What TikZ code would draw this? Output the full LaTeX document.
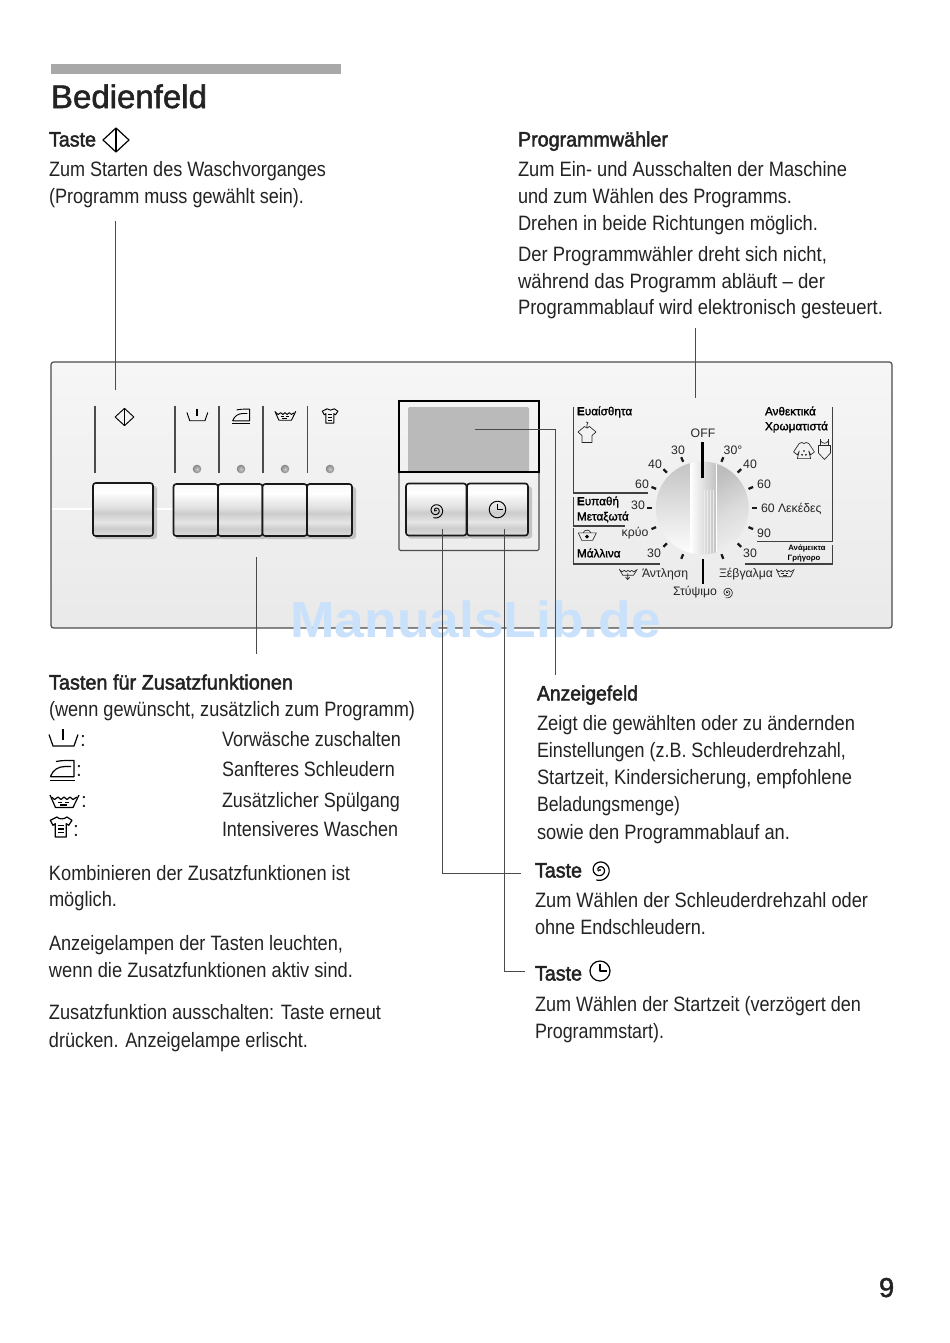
\documentclass[tikz,border=0pt]{standalone}
\usepackage{fontspec}
\usepackage{graphicx}
\usetikzlibrary{calc}
\setmainfont{Liberation Sans}
\newfontfamily\medf[FakeBold=2.2]{Liberation Sans}
\newfontfamily\titlef[FakeBold=1.6]{Liberation Sans}
\newfontfamily\semif[FakeBold=1.6]{Liberation Sans}
\definecolor{barg}{HTML}{A8A8A8}
\definecolor{ink}{HTML}{232323}
\definecolor{conn}{HTML}{4A4A4A}
\definecolor{wm}{HTML}{C9E1FB}
\pgfdeclareverticalshading{btnshade}{100bp}{color(0bp)=(black!32);color(7bp)=(black!16);color(18bp)=(black!22);color(24bp)=(black!12);color(32bp)=(black!20);color(38bp)=(black!10);color(47bp)=(black!20);color(52bp)=(black!12);color(60bp)=(black!6);color(66bp)=(white);color(76bp)=(black!3);color(82bp)=(white);color(92bp)=(black!10);color(100bp)=(black!30)}
\pgfdeclareverticalshading{panelshade}{100bp}{color(0bp)=(black!11);color(100bp)=(black!1)}
\tikzset{
  x=0.75pt,y=-0.75pt,
  txt/.style={anchor=base west,inner sep=0pt,outer sep=0pt,text=ink,font=\fontsize{15.6}{15.6}\selectfont},
  head/.style={txt,font=\fontsize{15.6}{15.6}\medf},
  gr/.style={inner sep=0pt,outer sep=0pt,text=black!85,font=\fontsize{9.2}{9.5}\selectfont},
  grb/.style={gr,text=black,font=\fontsize{8.8}{9}\semif},
  conline/.style={draw=conn,line width=0.65pt},
  sep/.style={draw=black!70,line width=0.8pt},
  frameline/.style={draw=black!75,line width=0.8pt},
  tick/.style={draw=black!90,line width=1.7pt},
  ico/.style={draw=black,line width=0.9pt,line join=round,fill=none},
  pics/prewash/.style={code={
    \draw[ico] (-14,-3.5)--(-10,8)--(11,8)--(15,-3.5);
    \draw[ico,line width=1.4pt] (0,-9)--(0,2);}},
  pics/iron/.style={code={
    \draw[ico] (-12.3,10.7)--(12.7,10.7);
    \draw[ico] (-11.7,6.7)..controls(-9,0)and(-4,-3.5)..(3,-3.5)--(9,-3.5) (-6,-8.5)..controls(0,-9.5)..(12,-9.5)--(12,6.7)--(-11.7,6.7);}},
  pics/tub/.style={code={
    \draw[ico] (-14,-8)--(-8.5,4.5)--(9,4.5)--(15,-8);
    \draw[ico] (-12.5,-6)--(-9.5,-3.5)--(-6,-6)--(-3,-3.5)--(0,-6)--(3,-3.5)--(6,-6)--(9,-3.5)--(13,-6);
    \draw[ico] (-6,-.5)--(-2,-.5) (1,-.5)--(5,-.5) (-4,2)--(3,2);}},
  pics/draintub/.style={code={
    \draw[ico] (-14,-8)--(-8.5,2)--(9,2)--(15,-8);
    \draw[ico] (-12.5,-6)--(-9.5,-3.5)--(-6,-6)--(-3,-3.5)--(0,-6)--(3,-3.5)--(6,-6)--(9,-3.5)--(13,-6);
    \draw[ico] (-.5,-1)--(-.5,9) (-4,5)--(-.5,9)--(3,5);}},
  pics/woolicon/.style={code={
    \draw[ico] (-14,-5)--(-8.5,7)--(9,7)--(15,-5)--cycle;
    \draw[ico] (-6,-5)..controls(-5,-11)and(5,-11)..(6,-5);
    \fill[black] (0,1) circle[radius=3.2];}},
  pics/shirt/.style={code={
    \draw[ico] (-10.7,-6.7)--(-4,-10)..controls(-2,-7.5)and(3,-7.5)..(6,-10)--(11,-6.7)--(7.7,-1.7)--(5.3,-3.3)--(5.3,10)--(-5.7,10)--(-5.7,-3.3)--(-8,-1.7)--cycle;
    \draw[ico] (-3,-1.5)--(3,-1.5) (-3,2)--(3,2) (-3,5.5)--(3,5.5);}},
  pics/hangshirt/.style={code={
    \draw[ico] (-9,-1)--(-2.5,-6.5)--(0,-5)--(2.5,-6.5)--(9,-1)--(5,2.5)--(5,9.5)--(-5,9.5)--(-5,2.5)--cycle;
    \draw[ico] (0,-5)--(0,-8.5)..controls(2,-9.5)and(1,-11.5)..(-1,-11);}},
  pics/dress/.style={code={
    \draw[ico] (-11,1)--(-5,-8)--(-2,-9)..controls(-1,-7)and(1,-7)..(2,-9)--(5,-8)--(11,1)--(7,4)--(5,0)--(7,8)--(-7,8)--(-5,0)--(-7,4)--cycle;
    \fill[black] (0,0) circle[radius=1] (-2,4) circle[radius=1] (2,4) circle[radius=1];}},
  pics/startdia/.style={code={
    \draw[ico] (-13,0)--(0,-12)--(13,0)--(0,12)--cycle;
    \draw[ico] (0,-12)--(0,12);}},
  pics/spiral/.style={code={
    \draw[ico,domain=0:690,samples=100,smooth,variable=\t] plot ({(1.5+\t/76)*cos(\t+140)},{(1.5+\t/76)*sin(\t+140)});
    \fill[black] (0,0) circle[radius=1.2];}},
  pics/clockface/.style={code={
    \draw[ico] (0,0) circle[radius=10];
    \draw[ico] (0,-7)--(0,0)--(6.5,0);}},
}
\newcommand\tl[5][txt]{\node[#1] (#2) at (#3) {\resizebox{\dimexpr #4pt*3/4\relax}{\height}{#5}};}
\newcommand\btn[4]{%
  \fill[black!40,rounded corners=2pt,opacity=.5] (#1+2,#2+3) rectangle (#3+4,#4+3);
  \shade[shading=btnshade,draw=black!90,line width=1.2pt,rounded corners=2pt] (#1,#2) rectangle (#3,#4);
}
\begin{document}
\begin{tikzpicture}
\useasboundingbox (0,0) rectangle (950,1343);
\fill[white] (0,0) rectangle (950,1343);
% header
\fill[barg] (51,64) rectangle (341,74);
\node[txt,font=\fontsize{24.5}{24}\titlef] (title) at (51,108) {\resizebox{117pt}{\height}{Bedienfeld}};
\node[txt,font=\fontsize{20.5}{20}\titlef] (pageno) at (879,1297) {9};

% panel
\shade[shading=panelshade,draw=black!70,line width=.9pt,rounded corners=2pt] (51,362) rectangle (892,628);
\draw[white,line width=.8pt] (52,509)--(173,509);
\node[font=\fontsize{38}{38}\selectfont\bfseries,text=wm,anchor=base west,inner sep=0pt] (wmark) at (290,637) {\resizebox{278pt}{\height}{ManualsLib.de}};

% separators
\foreach \xx in {95,175,219,263,307.5}{\draw[sep] (\xx,406)--(\xx,473);}
% leds
\foreach \xx in {197,241,285,330}{\shade[inner color=black!20,outer color=black!48] (\xx,469) circle[radius=4.3];}
% panel icons
\begin{scope}[ico/.style={draw=black,line width=0.7pt,line join=round,fill=none}]
\pic[scale=.72] at (124.5,417) {startdia};
\pic[scale=.72] at (197,415) {prewash};
\pic[scale=.72] at (241,416) {iron};
\pic[scale=.72] at (285,417) {tub};
\pic[scale=.72] at (330,416) {shirt};
\end{scope}

% buttons
\btn{93}{483}{153}{536}
\btn{173.5}{484}{218}{536}
\btn{218}{484}{262.5}{536}
\btn{262.5}{484}{307}{536}
\btn{307}{484}{352}{536}

% display
\draw[black!70,line width=.8pt,rounded corners=1pt] (399,472) rectangle (539,550.5);
\fill[black!27,rounded corners=1pt] (408,407) rectangle (529,472);
\draw[black,line width=1.1pt] (399,401) rectangle (539,472);
\btn{406}{483.5}{466.5}{535.5}
\btn{467}{483.5}{528}{535.5}
\begin{scope}[ico/.style={draw=black,line width=0.7pt,line join=round,fill=none}]
\pic[scale=.72] at (436,510.5) {spiral};
\pic[scale=.83] at (497.5,509.5) {clockface};
\end{scope}

% dial frame lines
\draw[frameline] (648,493)--(573.5,493)--(573.5,407);
\draw[frameline] (573.5,497)--(573.5,526)--(625,526);
\draw[frameline] (573.5,528)--(573.5,564)--(660,564);
\draw[frameline] (832.5,407)--(832.5,541.5)--(757,541.5);
\draw[frameline] (832.5,545)--(832.5,564)--(745,564);

% dial
\coordinate (dc) at (702.3,508);
\begin{scope}
  \clip (dc) circle[radius=46.5];
  \shade[shading=axis,left color=black!24,right color=white,shading angle=0] (654,460) rectangle (692,556);
  \shade[shading=axis,left color=black!26,right color=black!6,middle color=black!14,shading angle=30] (716,460) rectangle (752,556);
  \shade[left color=white,right color=black!24] (690,460) rectangle (716,556);
  \foreach \xx in {704,707,710,713}{\draw[black!8,line width=.4pt] (\xx,490)--(\xx,556);}
  \draw[white,line width=1pt] (716.7,460)--(716.7,556);
\end{scope}
% ticks
\foreach \a in {22.5,45,67.5,90,112.5,135,157.5,-22.5,-45,-67.5,-90,-112.5,-135,-157.5}{
  \draw[tick] ($(dc)+({50*sin(\a)},{-50*cos(\a)})$)--($(dc)+({55*sin(\a)},{-55*cos(\a)})$);
}
\draw[black,line width=2.2pt] (702.7,442)--(702.7,478);
\draw[black,line width=1.8pt] (702.7,559)--(702.7,584);

% dial labels
\node[gr] (d01) at (703,433) {OFF};
\node[gr] (d02) at (678,450) {30};
\node[gr] (d03) at (733,450) {30°};
\node[gr] (d04) at (655,464) {40};
\node[gr] (d05) at (750,464) {40};
\node[gr] (d06) at (642,484) {60};
\node[gr] (d07) at (764,484) {60};
\node[gr] (d08) at (638,505) {30};
\node[gr,anchor=west] (d09) at (761,509) {60 Λεκέδες};
\node[gr] (d10) at (635,533) {κρύο};
\node[gr] (d11) at (764,533) {90};
\node[gr] (d12) at (654,553) {30};
\node[gr] (d13) at (750,553) {30};
\node[gr,anchor=west] (d14) at (642,574) {Άντληση};
\node[gr,anchor=west] (d15) at (719,574) {Ξέβγαλμα};
\node[gr,anchor=west] (d16) at (673,592) {Στύψιμο};
\node[grb,anchor=west] (g1) at (577,412) {{\bfseries Ε}υαίσθητα};
\node[grb,anchor=west] (g2) at (765,411) {Ανθεκτικά};
\node[grb,anchor=west] (g3) at (765,427) {Χρωματιστά};
\node[grb,anchor=west] (g4) at (577,502) {{\bfseries Ε}υπαθή};
\node[grb,anchor=west] (g5) at (577,517) {Μεταξωτά};
\node[grb,anchor=west] (g6) at (577,553) {Μάλλινα};
\node[anchor=center,inner sep=0pt,font=\fontsize{5.8}{6}\selectfont\bfseries] (g7) at (807,548) {Ανάμεικτα};
\node[anchor=center,inner sep=0pt,font=\fontsize{5.8}{6}\selectfont\bfseries] (g8) at (804,558) {Γρήγορο};
% small dial icons
\begin{scope}[ico/.style={draw=black!85,line width=.5pt,line join=round,fill=none}]
\pic[scale=.52] at (727.5,592.5) {spiral};
\pic[scale=.62] at (785,574) {tub};
\pic[scale=.62] at (628,574) {draintub};
\pic at (587,433) {hangshirt};
\pic[scale=.95] at (804,451) {dress};
\pic[scale=.62] at (587,536) {woolicon};
\draw[ico] (818.5,445.5)--(830.5,445.5)--(830.5,453)--(824.5,459.5)--(818.5,453)--cycle
  (820.5,445.5)--(820.5,439) (828.5,445.5)--(828.5,439) (820.5,441)..controls(823,444)and(826,444)..(828.5,441);
\end{scope}

% connectors
\coordinate (c1a) at (115,221); \coordinate (c1b) at (115,390);
\draw[conline] (c1a)--(c1b);
\coordinate (c2a) at (695,328); \coordinate (c2b) at (695,398);
\draw[conline] (c2a)--(c2b);
\coordinate (c3a) at (256,557); \coordinate (c3b) at (256,654);
\draw[conline] (c3a)--(c3b);
\coordinate (c4a) at (475,429); \coordinate (c4b) at (555.5,429); \coordinate (c4c) at (555.5,675);
\draw[conline] (c4a)--(c4b)--(c4c);
\coordinate (c5a) at (442,529); \coordinate (c5b) at (442,873); \coordinate (c5c) at (521,873);
\draw[conline] (c5a)--(c5b)--(c5c);
\coordinate (c6a) at (504,529); \coordinate (c6b) at (504,971); \coordinate (c6c) at (525,971);
\draw[conline] (c6a)--(c6b)--(c6c);

% texts
\tl[head]{t01}{49,146.5}{47}{Taste}
\pic at (116,140) {startdia};
\tl{t02}{49,176.5}{277}{Zum Starten des Waschvorganges}
\tl{t03}{49,203.5}{255}{(Programm muss gewählt sein).}
\tl[head]{t04}{518,146.5}{150}{Programmwähler}
\tl{t05}{518,176.5}{329}{Zum Ein- und Ausschalten der Maschine}
\tl{t06}{518,203.5}{274}{und zum Wählen des Programms.}
\tl{t07}{518,230.5}{300}{Drehen in beide Richtungen möglich.}
\tl{t08}{518,261.5}{309}{Der Programmwähler dreht sich nicht,}
\tl{t09}{518,288.5}{307}{während das Programm abläuft – der}
\tl{t10}{518,314.5}{365}{Programmablauf wird elektronisch gesteuert.}
\tl[head]{t11}{49,689.5}{244}{Tasten für Zusatzfunktionen}
\tl{t12}{49,716.5}{366}{(wenn gewünscht, zusätzlich zum Programm)}
\pic at (63,738) {prewash};
\pic at (62,770) {iron};
\pic at (64,803) {tub};
\pic at (61,827) {shirt};
\node[txt] (k1) at (80,746.5) {:};
\node[txt] (k2) at (76,776.5) {:};
\node[txt] (k3) at (81,807.5) {:};
\node[txt] (k4) at (73,836.5) {:};
\tl{t13}{222,746.5}{179}{Vorwäsche zuschalten}
\tl{t14}{222,776.5}{173}{Sanfteres Schleudern}
\tl{t15}{222,807.5}{178}{Zusätzlicher Spülgang}
\tl{t16}{222,836.5}{176}{Intensiveres Waschen}
\tl{t17}{49,880.5}{301}{Kombinieren der Zusatzfunktionen ist}
\tl{t18}{49,906.5}{68}{möglich.}
\tl{t19}{49,950.5}{294}{Anzeigelampen der Tasten leuchten,}
\tl{t20}{49,977.5}{304}{wenn die Zusatzfunktionen aktiv sind.}
\tl{t21}{49,1019.5}{332}{Zusatzfunktion ausschalten: Taste erneut}
\tl{t22}{49,1047.5}{259}{drücken. Anzeigelampe erlischt.}
\tl[head]{t23}{537,700.5}{101}{Anzeigefeld}
\tl{t24}{537,730.5}{318}{Zeigt die gewählten oder zu ändernden}
\tl{t25}{537,757.5}{309}{Einstellungen (z.B. Schleuderdrehzahl,}
\tl{t26}{537,784.5}{315}{Startzeit, Kindersicherung, empfohlene}
\tl{t27}{537,811.5}{143}{Beladungsmenge)}
\tl{t28}{537,839.5}{253}{sowie den Programmablauf an.}
\tl[head]{t29}{535,877.5}{47}{Taste}
\pic at (600,870) {spiral};
\tl{t30}{535,907.5}{333}{Zum Wählen der Schleuderdrehzahl oder}
\tl{t31}{535,934.5}{171}{ohne Endschleudern.}
\tl[head]{t32}{535,980.5}{47}{Taste}
\pic at (600,971) {clockface};
\tl{t33}{535,1011.5}{326}{Zum Wählen der Startzeit (verzögert den}
\tl{t34}{535,1038.5}{129}{Programmstart).}
\end{tikzpicture}
\end{document}
